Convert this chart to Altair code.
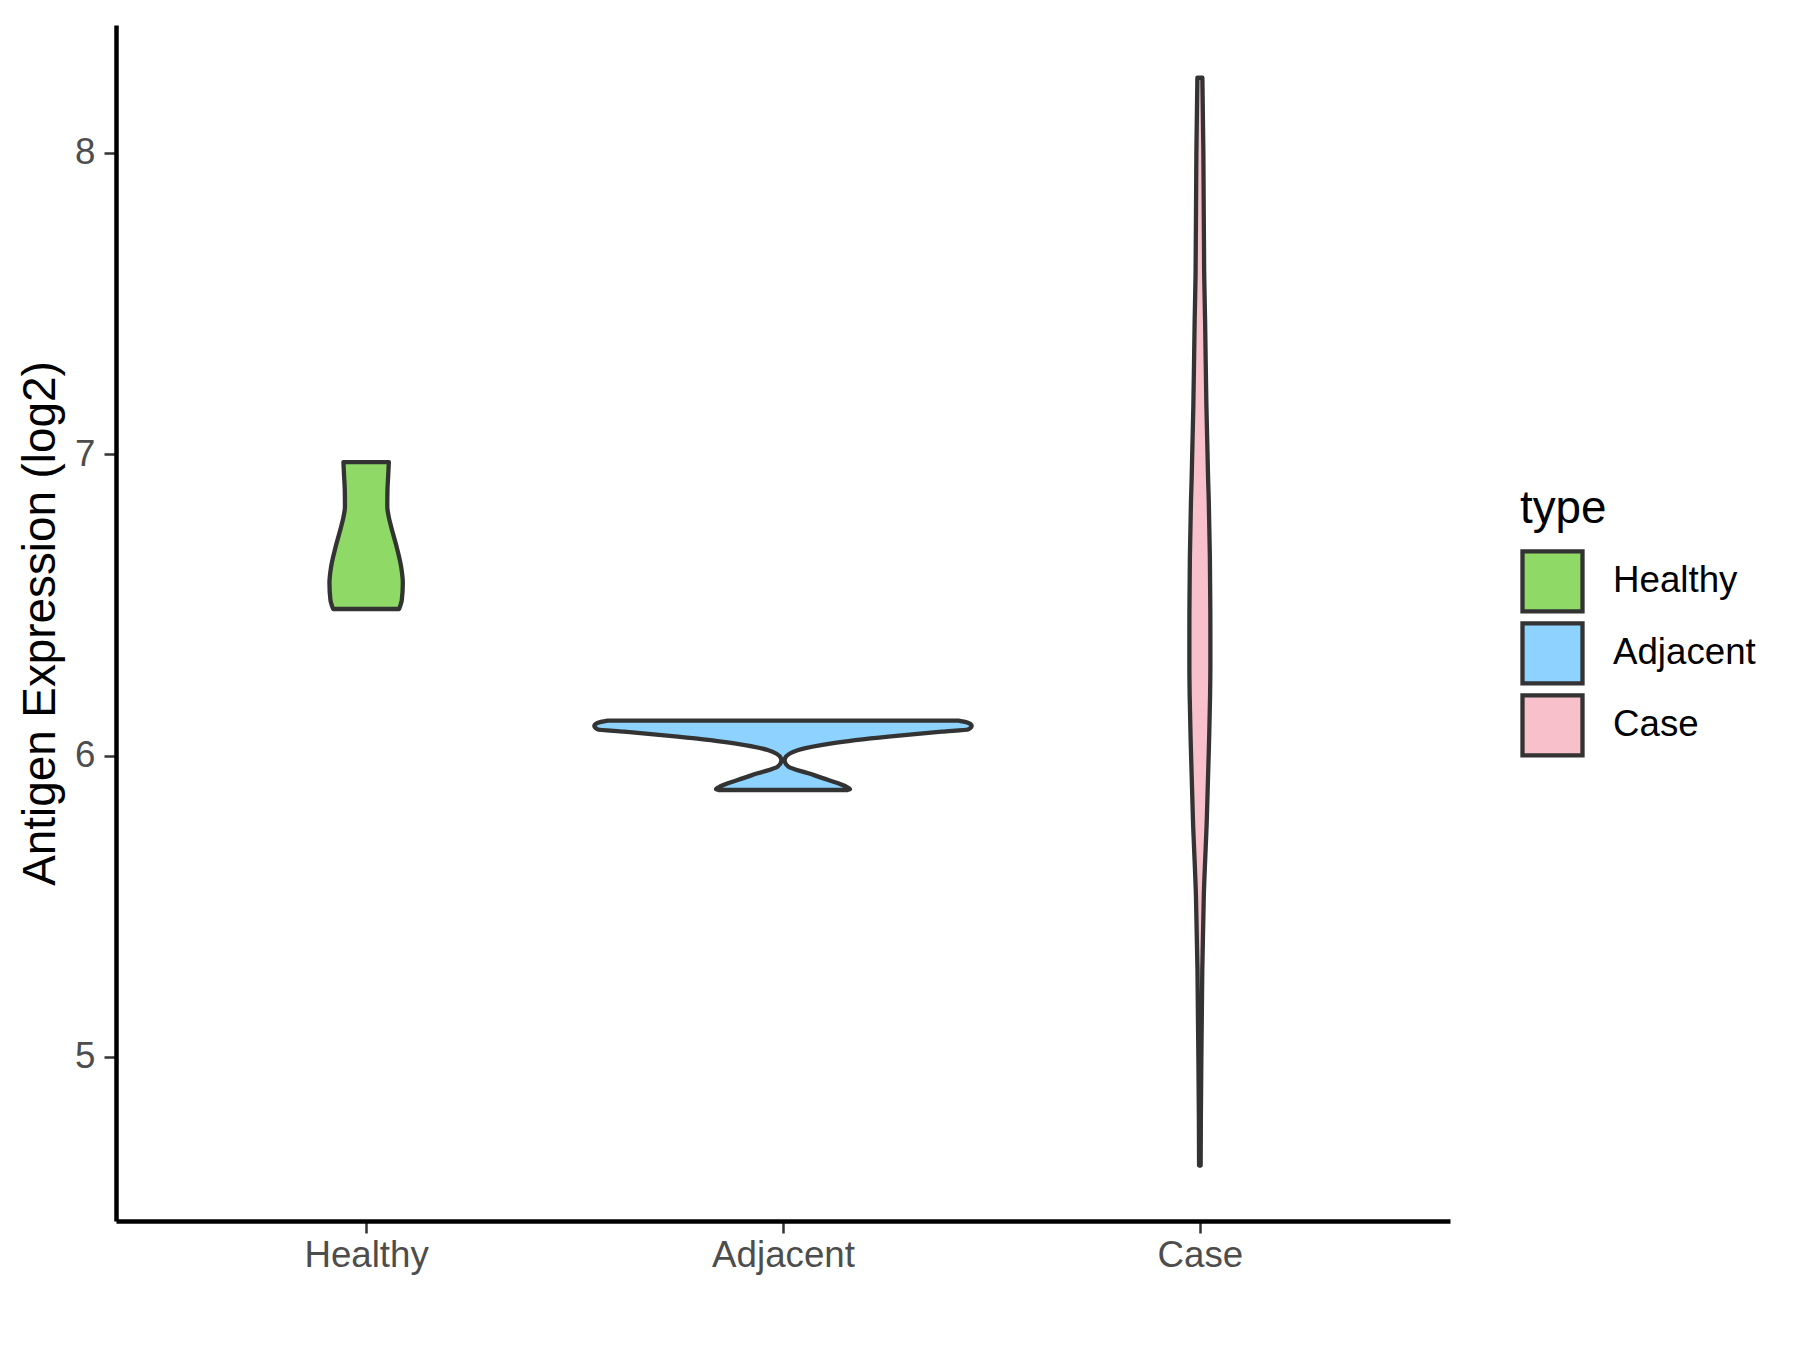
import altair as alt
import pandas as pd

# ---- data ----
groups = ["Healthy", "Adjacent", "Case"]
colors = ["#8FD967", "#8ED2FF", "#F7C0CB"]

# violin outlines: expression value (log2) and half-width of the density (x units)
healthy_y = [6.486, 6.516, 6.572, 6.626, 6.693, 6.759, 6.790, 6.825, 6.881, 6.930, 6.973]
healthy_hw = [0.079, 0.0856, 0.088, 0.084, 0.073, 0.060, 0.0545, 0.0508, 0.0512, 0.053, 0.0545]

adjacent_y = [5.8856, 5.8878, 5.8988, 5.9187, 5.9409, 5.9630, 5.9829, 5.9906,
              6.0182, 6.0404, 6.0625, 6.0790, 6.0868, 6.0989, 6.1080, 6.1155]
adjacent_hw = [0.155, 0.1607, 0.1487, 0.1088, 0.0608, 0.0128, 0.004, 0.0048,
               0.0368, 0.1167, 0.2527, 0.381, 0.4445, 0.4526, 0.445, 0.4206]

case_y = [4.640, 4.80, 5.00, 5.289, 5.534, 5.786, 6.025, 6.20, 6.30, 6.40,
          6.657, 6.847, 6.910, 7.164, 7.444, 7.600, 8.00, 8.248]
case_hw = [0.0019, 0.0024, 0.0036, 0.0058, 0.0094, 0.0166, 0.0216, 0.0245, 0.0252, 0.0252,
           0.024, 0.0213, 0.0199, 0.0156, 0.0125, 0.0103, 0.0084, 0.006]

y_ticks = [5, 6, 7, 8]
y_domain = [4.456, 8.423]
x_domain = [0.4, 3.6]

rows = []
for i, (g, ys, hws) in enumerate(zip(groups, [healthy_y, adjacent_y, case_y],
                                     [healthy_hw, adjacent_hw, case_hw])):
    for y, hw in zip(ys, hws):
        rows.append({"type": g, "idx": i + 1, "value": y, "hw": hw})
df = pd.DataFrame(rows)

label_expr = " : ".join(
    [f"datum.value == {i + 1} ? '{g}'" for i, g in enumerate(groups[:-1])]
) + f" : '{groups[-1]}'"

FONT = "Liberation Sans"

chart = (
    alt.Chart(df)
    .transform_calculate(left="datum.idx - datum.hw", right="datum.idx + datum.hw")
    .mark_area(orient="horizontal", stroke="#333333", strokeWidth=4.3,
               interpolate="monotone", fillOpacity=1, strokeJoin="round")
    .encode(
        y=alt.Y("value:Q",
                scale=alt.Scale(domain=y_domain, nice=False, zero=False),
                axis=alt.Axis(values=y_ticks, title="Antigen Expression (log2)",
                              titleFontSize=45.8, titleFont=FONT, titleColor="#000000",
                              titleFontWeight="normal", titlePadding=10, labelPadding=9)),
        x=alt.X("left:Q",
                scale=alt.Scale(domain=x_domain, nice=False, zero=False),
                axis=alt.Axis(values=[1, 2, 3], labelExpr=label_expr, title=None,
                              labelPadding=4.5)),
        x2="right:Q",
        color=alt.Color("type:N",
                        scale=alt.Scale(domain=groups, range=colors),
                        legend=alt.Legend(title="type", orient="none",
                                          legendX=1404, legendY=462,
                                          symbolType="square", symbolSize=3600,
                                          symbolStrokeColor="#333333",
                                          symbolStrokeWidth=4.3,
                                          symbolOpacity=1,
                                          labelFontSize=36.7, labelFont=FONT,
                                          labelColor="#000000", labelOffset=28,
                                          titleFontSize=45.8, titleFont=FONT,
                                          titleColor="#000000", titleFontWeight="normal",
                                          titlePadding=16, rowPadding=-30, padding=0)),
        detail="type:N",
    )
    .properties(
        width=1334,
        height=1196,
        padding={"left": 108, "top": 17, "right": 342, "bottom": 121},
        autosize=alt.AutoSizeParams(type="none"),
    )
    .configure_view(stroke=None)
    .configure_axis(
        grid=False,
        domainColor="#000000",
        domainWidth=4.5,
        tickColor="#333333",
        tickWidth=2.5,
        tickSize=12,
        labelFont=FONT,
        labelFontSize=36.7,
        labelColor="#4D4D4D",
    )
)

chart.save("out.html", embed_options={"renderer": "svg", "actions": False})
